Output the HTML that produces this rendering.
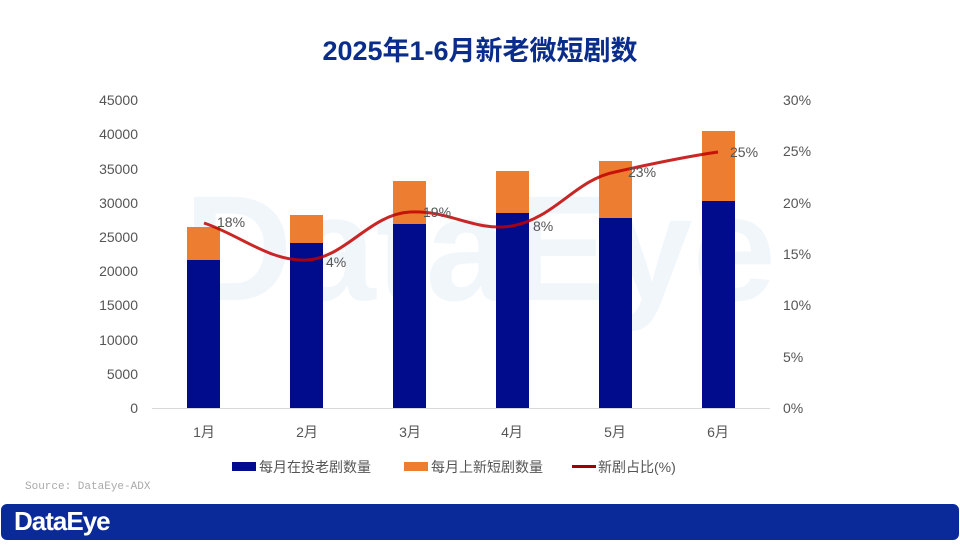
<!DOCTYPE html>
<html><head><meta charset="utf-8"><style>
html,body{margin:0;padding:0;background:#fff;}
body{width:960px;height:540px;overflow:hidden;font-family:"Liberation Sans","Noto Sans CJK SC",sans-serif;}
</style></head><body>
<svg width="960" height="540" xmlns="http://www.w3.org/2000/svg" font-family="Liberation Sans, Noto Sans CJK SC, sans-serif">
<rect width="960" height="540" fill="#fff"/>
<text x="480" y="60" text-anchor="middle" font-size="27" font-weight="bold" fill="#0a2d8c">2025年1-6月新老微短剧数</text>
<text x="480" y="300" text-anchor="middle" font-size="150" font-weight="bold" fill="#eef4fb" opacity="0.8">DataEye</text>
<g font-size="14" fill="#555" text-anchor="end">
<text x="138" y="413">0</text><text x="138" y="379">5000</text><text x="138" y="345">10000</text><text x="138" y="310">15000</text><text x="138" y="276">20000</text><text x="138" y="242">25000</text><text x="138" y="208">30000</text><text x="138" y="174">35000</text><text x="138" y="139">40000</text><text x="138" y="105">45000</text>
</g>
<g font-size="14" fill="#555" text-anchor="start">
<text x="783" y="413">0%</text><text x="783" y="362">5%</text><text x="783" y="310">10%</text><text x="783" y="259">15%</text><text x="783" y="208">20%</text><text x="783" y="156">25%</text><text x="783" y="105">30%</text>
</g>
<line x1="152" y1="408.5" x2="770" y2="408.5" stroke="#d9d9d9"/>
<g fill="#000c8c">
<rect x="187" y="260" width="33" height="148"/><rect x="290" y="243" width="33" height="165"/><rect x="393" y="224" width="33" height="184"/><rect x="496" y="213" width="33" height="195"/><rect x="599" y="218" width="33" height="190"/><rect x="702" y="201" width="33" height="207"/>
</g>
<g fill="#ed7d31">
<rect x="187" y="227" width="33" height="33"/><rect x="290" y="215" width="33" height="28"/><rect x="393" y="181" width="33" height="43"/><rect x="496" y="171" width="33" height="42"/><rect x="599" y="161" width="33" height="57"/><rect x="702" y="131" width="33" height="70"/>
</g>
<path d="M204,223 C240,235 270,262 307,260 C345,258 370,214 410,212 C450,210 475,232 512,226 C555,218 575,180 615,172 C655,163 690,156 718,152" fill="none" stroke="#c00000" stroke-width="3" opacity="0.85"/>
<g font-size="14" fill="#555">
<text x="217" y="227">18%</text><text x="326" y="267">4%</text><text x="423" y="217">19%</text><text x="533" y="231">8%</text><text x="628" y="177">23%</text><text x="730" y="157">25%</text>
</g>
<g font-size="14" fill="#555" text-anchor="middle">
<text x="204" y="437">1月</text><text x="307" y="437">2月</text><text x="410" y="437">3月</text><text x="512" y="437">4月</text><text x="615" y="437">5月</text><text x="718" y="437">6月</text>
</g>
<rect x="232" y="462" width="24" height="9" fill="#000c8c"/>
<text x="259" y="472" font-size="14" fill="#555">每月在投老剧数量</text>
<rect x="404" y="462" width="24" height="9" fill="#ed7d31"/>
<text x="431" y="472" font-size="14" fill="#555">每月上新短剧数量</text>
<rect x="572" y="465" width="24" height="3" fill="#a00000"/>
<text x="598" y="472" font-size="14" fill="#555">新剧占比(%)</text>
<text x="25" y="489" font-size="11" fill="#aaa" font-family="Liberation Mono, monospace">Source: DataEye-ADX</text>
<rect x="1" y="504" width="958" height="36" rx="6" fill="#0a2a9a"/>
<text x="14" y="530" font-size="26" font-weight="bold" fill="#fff" letter-spacing="-1">DataEye</text>
</svg>
</body></html>
